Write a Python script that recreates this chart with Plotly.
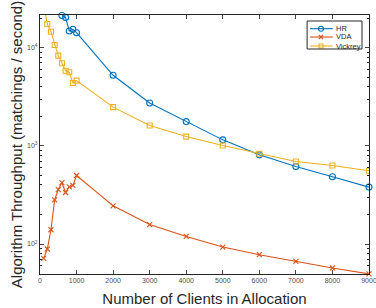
import plotly.graph_objects as go
import math

x_hr = [600, 700, 800, 900, 1000, 2000, 3000, 4000, 5000, 6000, 7000, 8000, 9000]
y_hr = [21300, 20370, 14790, 15380, 14220, 5240, 2738, 1767, 1151, 810, 615, 484, 380]

x_vda = [100, 200, 300, 400, 500, 600, 700, 800, 900, 1000, 2000, 3000, 4000, 5000, 6000, 7000, 8000, 9000]
y_vda = [71.4, 89.0, 139.8, 282, 359, 423, 335, 383, 395, 499, 245, 158, 119.5, 93.2, 77.8, 66.5, 57.0, 49.6]

x_vic = [100, 200, 300, 400, 500, 600, 700, 800, 900, 1000, 2000, 3000, 4000, 5000, 6000, 7000, 8000, 9000]
y_vic = [27300, 17420, 14550, 10650, 8300, 6940, 5830, 5620, 4370, 4620, 2480, 1610, 1243, 1007, 830, 692, 631, 557]

series_names = ["HR", "VDA", "Vickrey"]
series_colors = ["#0072BD", "#D95319", "#EDB120"]
series_symbols = ["circle-open", "x-thin-open", "square-open"]
series_sizes = [6, 5, 5]
legend_sizes = [5, 4, 4]

x_ticks = [0, 1000, 2000, 3000, 4000, 5000, 6000, 7000, 8000, 9000]
y_ticks = [100, 1000, 10000]
y_ticktext = ["10<sup>2</sup>", "10<sup>3</sup>", "10<sup>4</sup>"]

fig = go.Figure()
data = [(x_hr, y_hr, False), (x_vda, y_vda, False), (x_vic, y_vic, True)]
for (xs, ys, clip), name, col, sym, sz in zip(data, series_names, series_colors, series_symbols, series_sizes):
    fig.add_trace(go.Scatter(x=xs, y=ys, name=name, mode="lines+markers",
                             line=dict(color=col, width=1.1),
                             marker=dict(symbol=sym, size=sz, color=col, line=dict(width=1.1, color=col)),
                             cliponaxis=clip, showlegend=False))

# custom compact legend (overlay axes in paper-like units)
leg_y = [0.9472, 0.9151, 0.8803]
leg_x0, leg_x1, leg_mx, leg_tx = 0.8207, 0.8897, 0.8541, 0.8945
for ly, name, col, sym, sz in zip(leg_y, series_names, series_colors, series_symbols, legend_sizes):
    fig.add_shape(type="line", xref="paper", yref="paper", x0=leg_x0, x1=leg_x1, y0=ly, y1=ly,
                  line=dict(color=col, width=1.1))
    fig.add_trace(go.Scatter(x=[leg_mx], y=[ly], xaxis="x2", yaxis="y2", mode="markers",
                             marker=dict(symbol=sym, size=sz, color=col, line=dict(width=1.1, color=col)),
                             cliponaxis=False, showlegend=False, hoverinfo="skip"))
    fig.add_annotation(x=leg_tx, y=ly, xref="paper", yref="paper", text=name, showarrow=False,
                       xanchor="left", yanchor="middle", font=dict(size=7.5, color="#262626"))
fig.add_shape(type="rect", xref="paper", yref="paper", x0=0.8119, x1=0.9787, y0=0.8687, y1=0.9768,
              line=dict(color="#262626", width=1), fillcolor="rgba(255,255,255,0)", layer="above")

minor_vals = []
for d in [10, 100, 1000, 10000]:
    for k in range(2, 10):
        minor_vals.append(k * d)

axis_color = "#262626"
fig.update_layout(
    width=376, height=308,
    margin=dict(l=40, r=7, t=15, b=34),
    paper_bgcolor="white", plot_bgcolor="white",
    font=dict(family="Liberation Sans, Arial, sans-serif", color=axis_color),
    showlegend=False,
    xaxis=dict(range=[0, 9000], tickvals=x_ticks, ticks="inside", ticklen=4,
               showline=True, linecolor=axis_color, linewidth=1, mirror="ticks",
               showgrid=False, zeroline=False, automargin=False, ticklabeloverflow="allow",
               tickfont=dict(size=7, color="#4d4d4d"),
               title=dict(text="Number of Clients in Allocation", font=dict(size=15), standoff=10)),
    yaxis=dict(type="log", range=[math.log10(49.5), math.log10(21540)],
               tickvals=y_ticks, ticktext=y_ticktext, ticks="inside", ticklen=4,
               minor=dict(tickvals=minor_vals, ticks="inside", ticklen=2, tickcolor=axis_color),
               showline=True, linecolor=axis_color, linewidth=1, mirror="ticks",
               showgrid=False, zeroline=False, automargin=False,
               tickfont=dict(size=7, color="#4d4d4d"),
               title=dict(text="Algorithm Throughput (matchings / second)", font=dict(size=15), standoff=0)),
    xaxis2=dict(range=[0, 1], overlaying="x", visible=False),
    yaxis2=dict(range=[0, 1], overlaying="y", visible=False),
)

fig.write_html("out.html", post_script="document.body.style.margin='0';",
               config={"displayModeBar": False, "staticPlot": True})
